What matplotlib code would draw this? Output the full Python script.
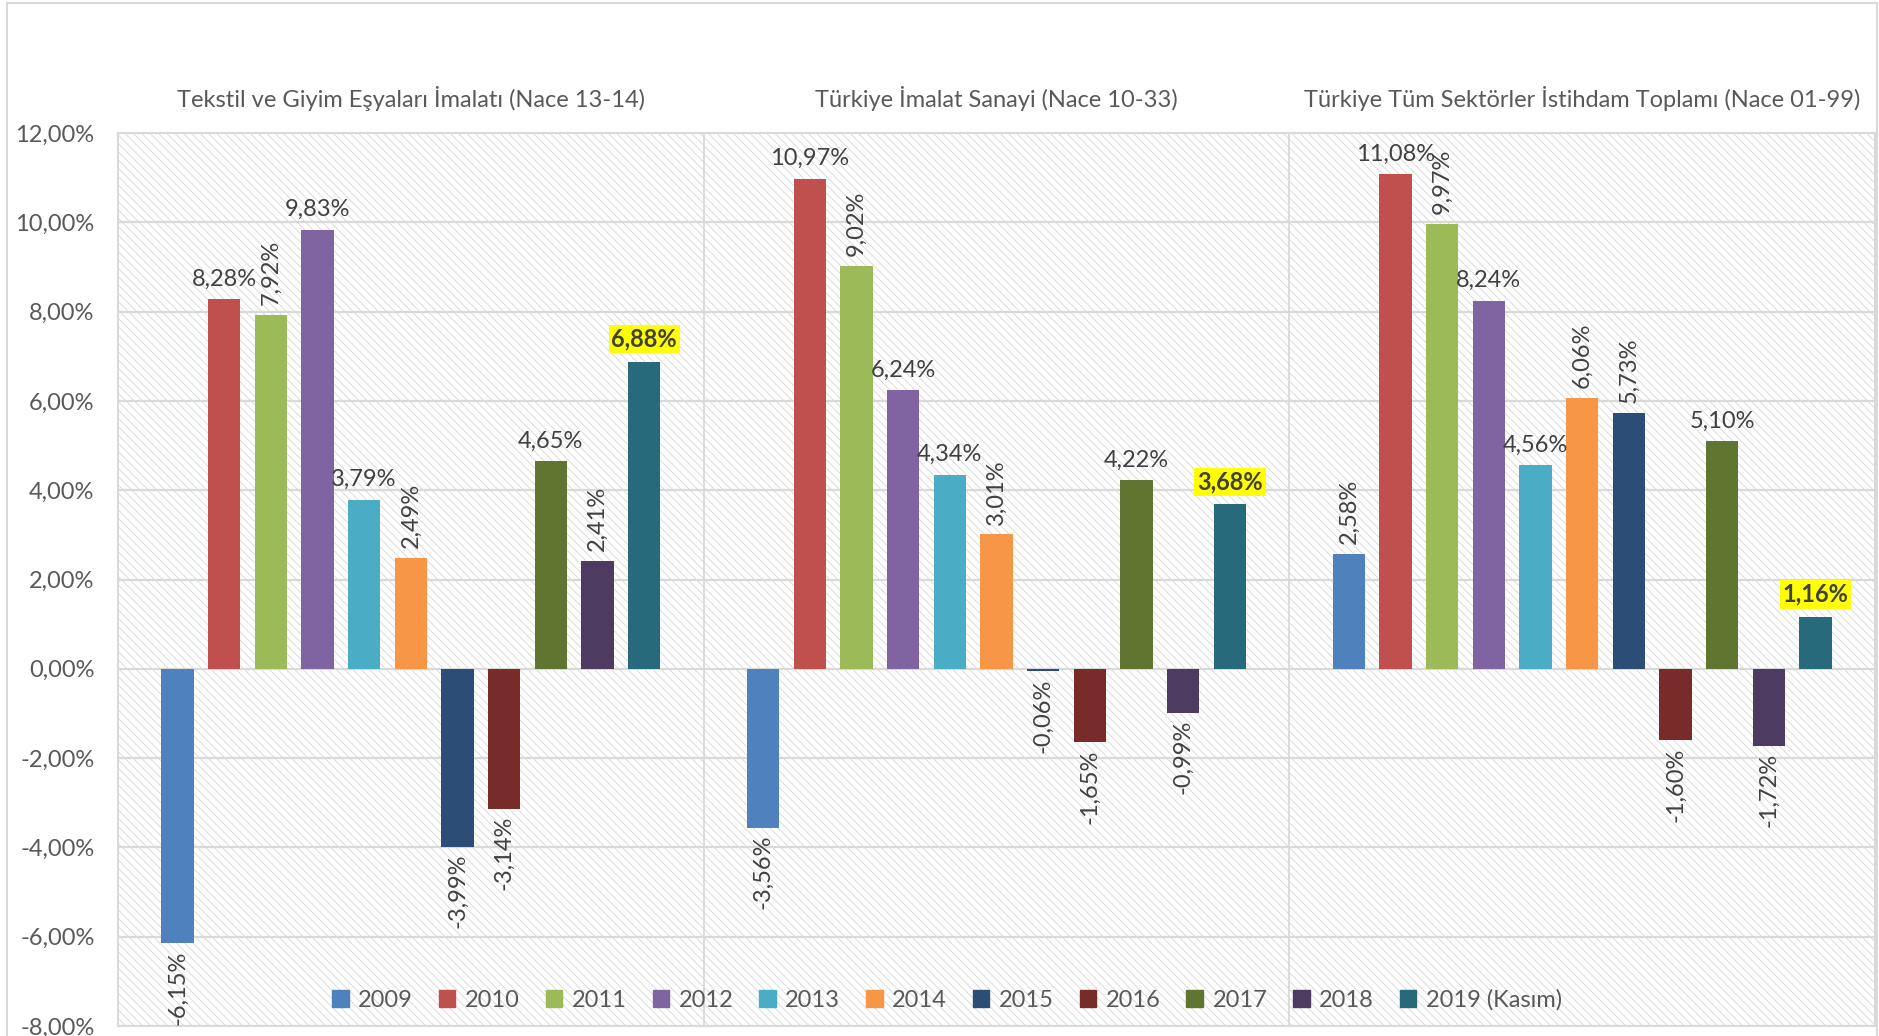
import matplotlib
matplotlib.use("Agg")
import matplotlib.pyplot as plt
from matplotlib.patches import Rectangle, Patch
import numpy as np

plt.rcParams['font.family'] = ['Lato', 'DejaVu Sans']
plt.rcParams['hatch.linewidth'] = 0.6

# categories (one group each) and series (years)
categories = ["Tekstil ve Giyim Eşyaları İmalatı (Nace 13-14)",
              "Türkiye İmalat Sanayi (Nace 10-33)",
              "Türkiye Tüm Sektörler İstihdam Toplamı (Nace 01-99)"]
years = ["2009", "2010", "2011", "2012", "2013", "2014",
         "2015", "2016", "2017", "2018", "2019 (Kasım)"]

# values per year: [tekstil, imalat, tum sektorler]
v2009 = [-6.15, -3.56, 2.58]
v2010 = [8.28, 10.97, 11.08]
v2011 = [7.92, 9.02, 9.97]
v2012 = [9.83, 6.24, 8.24]
v2013 = [3.79, 4.34, 4.56]
v2014 = [2.49, 3.01, 6.06]
v2015 = [-3.99, -0.06, 5.73]
v2016 = [-3.14, -1.65, -1.60]
v2017 = [4.65, 4.22, 5.10]
v2018 = [2.41, -0.99, -1.72]
v2019 = [6.88, 3.68, 1.16]
series = [v2009, v2010, v2011, v2012, v2013, v2014,
          v2015, v2016, v2017, v2018, v2019]

colors = ["#4F81BD", "#C0504D", "#9BBB59", "#8064A2", "#4BACC6", "#F79646",
          "#2C4D75", "#772C2A", "#5F7530", "#4D3B62", "#276A7C"]
# data label orientation per series (True = vertical)
rotated = [True, False, True, False, False, True, True, True, False, True, False]

y_ticks = [-8, -6, -4, -2, 0, 2, 4, 6, 8, 10, 12]

fig = plt.figure(figsize=(18.79, 10.36), dpi=100)
ax = fig.add_axes([118 / 1879, 1 - 1026 / 1036, (1875 - 118) / 1879, (1026 - 133) / 1036])

# hatched background
ax.set_facecolor("white")
ax.patch.set_hatch("\\\\\\\\")
ax.patch.set_edgecolor("#d6d6d6")
ax.patch.set_linewidth(0)

x = np.arange(len(categories))
slot = 0.0797
width = 0.0553
tick_col = "#595959"
lab_col = "#404040"
fs = 17

for j, (vals, c) in enumerate(zip(series, colors)):
    xs = x + (j - 5) * slot
    ax.bar(xs, vals, width, color=c, zorder=3, label=years[j])
    for xi, v in zip(xs, vals):
        txt = f"{v:.2f}%".replace(".", ",")
        if j == len(series) - 1:
            ax.annotate(txt, (xi, v), xytext=(0, 8), textcoords="offset points",
                        ha="center", va="bottom", fontsize=fs, color=lab_col,
                        fontweight="bold", zorder=5,
                        bbox=dict(boxstyle="square,pad=0.12", fc="#FFFF00", ec="none"),
                        annotation_clip=False)
        elif rotated[j]:
            off = 7 if v >= 0 else -5
            ax.annotate(txt, (xi, v), xytext=(0, off), textcoords="offset points",
                        ha="center", va="bottom" if v >= 0 else "top",
                        rotation=90, fontsize=fs, color=lab_col, zorder=5,
                        annotation_clip=False)
        else:
            ax.annotate(txt, (xi, v), xytext=(0, 7), textcoords="offset points",
                        ha="center", va="bottom", fontsize=fs, color=lab_col, zorder=5,
                        annotation_clip=False)

ax.set_xlim(-0.5, 2.5)
ax.set_ylim(-8, 12)
ax.set_yticks(y_ticks)
ax.set_yticklabels([f"{t:.2f}%".replace(".", ",") for t in y_ticks])
ax.tick_params(axis="y", length=0, pad=17, labelsize=fs, labelcolor=tick_col)
ax.set_xticks([])

for t in y_ticks:
    ax.axhline(t, color="#d9d9d9", lw=1.6, zorder=1)
for b in [0.5, 1.5]:
    ax.axvline(b, color="#d9d9d9", lw=1.3, zorder=1)
for s in ax.spines.values():
    s.set_color("#d9d9d9")
    s.set_linewidth(1.5)

# category titles above plot
for i, name in enumerate(categories):
    ax.annotate(name, (i, 1), xycoords=("data", "axes fraction"),
                xytext=(0, 25), textcoords="offset points",
                ha="center", va="center", fontsize=fs, color=tick_col)

handles = [Patch(color=c) for c in colors]
ax.legend(handles, years, loc="center", ncol=11, frameon=False,
          bbox_to_anchor=(947 / 1879, 1 - 1000 / 1036), bbox_transform=fig.transFigure,
          fontsize=fs, labelcolor=tick_col, handlelength=0.7, handleheight=0.7,
          handletextpad=0.4, columnspacing=1.1)

# outer chart border
fig.add_artist(Rectangle((7 / 1879, -0.01), (1877 - 7) / 1879, 1.01 - 3 / 1036,
                         transform=fig.transFigure, fill=False,
                         ec="#d9d9d9", lw=1.5))

fig.savefig("out.png", dpi=100)
